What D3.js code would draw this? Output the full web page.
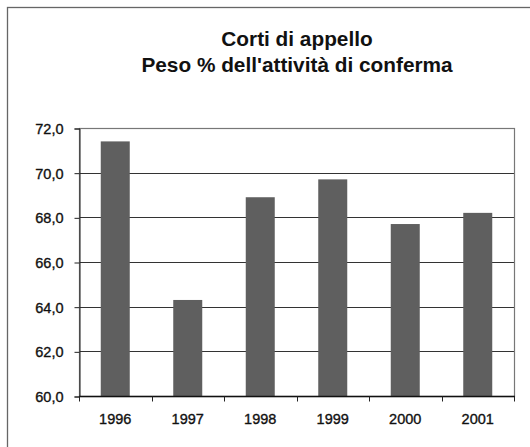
<!DOCTYPE html>
<html>
<head>
<meta charset="utf-8">
<script src="https://cdn.jsdelivr.net/npm/d3@7"></script>
<style>
  html, body { margin: 0; padding: 0; background: #fff; }
  svg { display: block; }
  text { font-family: Arial, "Liberation Sans", sans-serif; fill: #111; }
</style>
</head>
<body>
<script>
// Corti di appello – peso percentuale dell'attività di conferma
const years = ["1996", "1997", "1998", "1999", "2000", "2001"];
const values = [71.4, 64.3, 68.9, 69.7, 67.7, 68.2];
const yTicks = [60, 62, 64, 66, 68, 70, 72];
const titleLines = ["Corti di appello", "Peso % dell'attività di conferma"];

const W = 530, H = 447;
const plot = { left: 79, top: 128, right: 514, bottom: 396 };

const svg = d3.select("body").append("svg")
  .attr("width", W).attr("height", H);

// Outer chart frame (extends past the right and bottom edges)
svg.append("rect")
  .attr("x", 7.5).attr("y", 7.5)
  .attr("width", 540).attr("height", 460)
  .attr("fill", "none").attr("stroke", "#666").attr("stroke-width", 1.3);

// Title
svg.append("text")
  .attr("x", 297).attr("text-anchor", "middle")
  .attr("font-weight", "bold").attr("font-size", 20.8)
  .attr("fill", "#111")
  .selectAll("tspan").data(titleLines).join("tspan")
  .attr("x", 297).attr("y", (d, i) => 46 + i * 26)
  .text(d => d);

const x = d3.scaleBand().domain(years)
  .range([plot.left, plot.right]).paddingInner(0.6).paddingOuter(0.3);
const xEdges = d3.scaleBand().domain(years)
  .range([plot.left, plot.right]).padding(0);
const y = d3.scaleLinear().domain([60, 72]).range([plot.bottom, plot.top]);

// Horizontal gridlines
svg.append("g").selectAll("line").data(yTicks.filter(t => t > 60 && t < 72)).join("line")
  .attr("x1", plot.left).attr("x2", plot.right)
  .attr("y1", d => Math.round(y(d)) + 0.5).attr("y2", d => Math.round(y(d)) + 0.5)
  .attr("stroke", "#333").attr("stroke-width", 1);

// Plot area border
svg.append("rect")
  .attr("x", plot.left + 0.5).attr("y", plot.top + 0.5)
  .attr("width", plot.right - plot.left).attr("height", plot.bottom - plot.top)
  .attr("fill", "none").attr("stroke", "#777").attr("stroke-width", 1.2);

// Bars
svg.append("g").selectAll("rect").data(values).join("rect")
  .attr("x", (d, i) => x(years[i]))
  .attr("width", x.bandwidth())
  .attr("y", d => y(d))
  .attr("height", d => y(60) - y(d))
  .attr("fill", "#5f5f5f");

// Y axis
const yAxis = d3.axisLeft(y).tickValues(yTicks).tickSize(5).tickPadding(11)
  .tickFormat(d => d3.format(".1f")(d).replace(".", ","));
const gy = svg.append("g").attr("transform", `translate(${plot.left + 0.5},0.5)`).call(yAxis);
gy.select(".domain").attr("stroke", "#222");
gy.selectAll(".tick line").attr("stroke", "#222");
gy.attr("font-size", null).attr("font-family", null);
gy.selectAll("text").attr("font-size", 14.5).attr("fill", "#111").attr("dy", "0.35em")
  .attr("stroke", "#111").attr("stroke-width", 0.35);

// X axis with ticks on category boundaries
const gx = svg.append("g").attr("transform", `translate(0,${plot.bottom + 0.5})`);
gx.append("line").attr("x1", plot.left).attr("x2", plot.right + 1)
  .attr("stroke", "#111").attr("stroke-width", 1.5);
gx.selectAll("line.tk").data(years.map(yy => xEdges(yy)).concat([plot.right])).join("line")
  .attr("class", "tk")
  .attr("x1", d => Math.round(d) + 0.5).attr("x2", d => Math.round(d) + 0.5)
  .attr("y1", 0).attr("y2", 5).attr("stroke", "#222");
gx.selectAll("text").data(years).join("text")
  .attr("x", d => xEdges(d) + xEdges.bandwidth() / 2)
  .attr("y", 27).attr("text-anchor", "middle")
  .attr("font-size", 14.5).attr("stroke", "#111").attr("stroke-width", 0.35)
  .text(d => d);
</script>
</body>
</html>
